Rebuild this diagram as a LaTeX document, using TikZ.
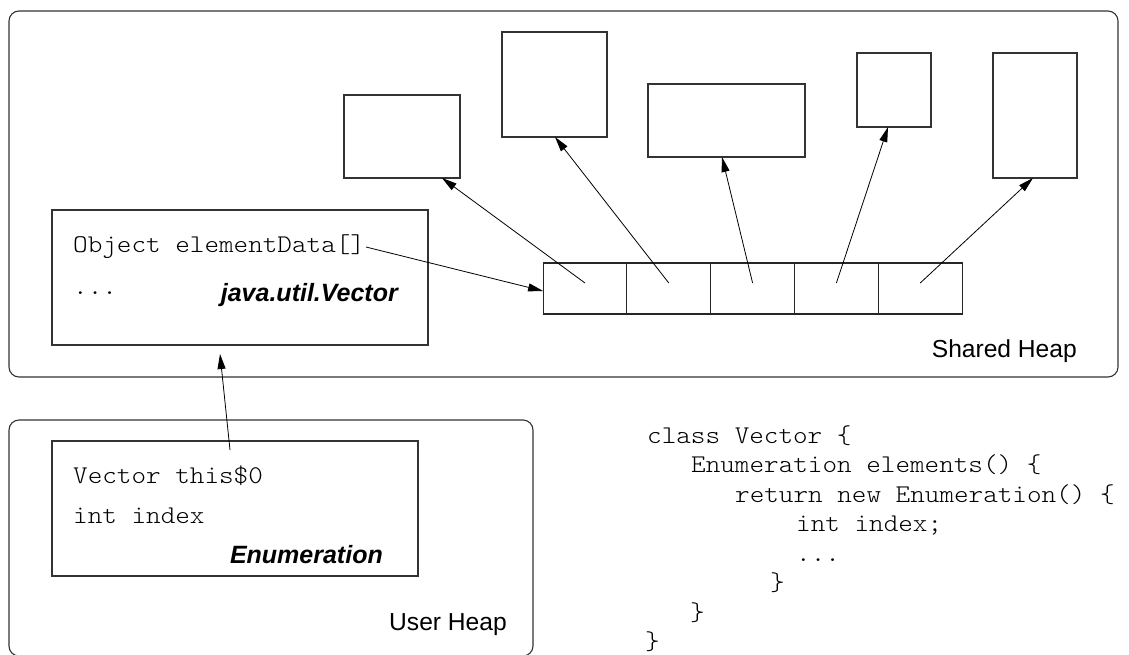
\documentclass[tikz,border=0pt]{standalone}
\usepackage{fontspec}
\setmainfont{Liberation Sans}
\setmonofont[FakeStretch=1.09]{lmmonolt10-regular.otf}
\usetikzlibrary{arrows.meta}
\begin{document}
\begin{tikzpicture}[x=1pt,y=-1pt,
  heap/.style={draw=black!80,line width=1.1pt,rounded corners=10pt,inner sep=0pt,outer sep=0pt},
  obj/.style={draw=black!80,line width=1.2pt,inner sep=0pt,outer sep=0pt},
  cell/.style={draw=black!85,line width=1.1pt,inner sep=0pt,outer sep=0pt,minimum width=83.8pt,minimum height=51pt},
  arr/.style={draw=black,line width=0.8pt,-{Triangle[length=15pt,width=8pt]}},
  code/.style={anchor=base west,inner sep=0pt,font=\ttfamily\fontsize{25.5}{29}\selectfont},
  lbl/.style={anchor=base east,inner sep=0pt,font=\fontsize{24.6}{29}\selectfont},
  cls/.style={anchor=base east,inner sep=0pt,font=\bfseries\itshape\fontsize{25}{29}\selectfont}]
\useasboundingbox (0,0) rectangle (1129,654);
% heaps
\node[heap,minimum width=1109pt,minimum height=366pt] (shared) at (563.5,194) {};
\node[heap,minimum width=524pt,minimum height=236pt] (user) at (271,538) {};
\node[lbl] (sharedlbl) at (1077,357) {Shared Heap};
\node[lbl] (userlbl) at (507,630) {User Heap};
% objects
\node[obj,minimum width=116pt,minimum height=83pt] (o1) at (402,136.5) {};
\node[obj,minimum width=105pt,minimum height=105pt] (o2) at (554.5,84.5) {};
\node[obj,minimum width=157pt,minimum height=73pt] (o3) at (726.5,120.5) {};
\node[obj,minimum width=74pt,minimum height=74pt] (o4) at (894,90) {};
\node[obj,minimum width=84pt,minimum height=125pt] (o5) at (1035,115.5) {};
% array
\node[cell] (c1) at (585,288.5) {};
\node[cell] (c2) at (668.8,288.5) {};
\node[cell] (c3) at (752.6,288.5) {};
\node[cell] (c4) at (836.4,288.5) {};
\node[cell] (c5) at (920.2,288.5) {};
% vector object
\node[obj,minimum width=376pt,minimum height=135pt] (vec) at (240,277.5) {};
\node[code] (vl1) at (73,252) {Object elementData[]};
\node[code] (vl2) at (73,294) {...};
\node[cls] (vcls) at (398,301) {java.util.Vector};
\coordinate (vdata) at (366,247);
% enumeration object
\node[obj,minimum width=366pt,minimum height=135pt] (enum) at (235,508.5) {};
\node[code] (el1) at (73,483) {Vector this\$0};
\node[code] (el2) at (73,523) {int index};
\node[cls] (ecls) at (383,563) {Enumeration};
% code listing
\node[code] (k1) at (647,443) {class Vector \{};
\node[code] (k2) at (691,472.5) {Enumeration elements() \{};
\node[code] (k3) at (735,502) {return new Enumeration() \{};
\node[code] (k4) at (796,531.5) {int index;};
\node[code] (k5) at (796,561) {...};
\node[code] (k6) at (770,590.5) {\}};
\node[code] (k7) at (690,620) {\}};
\node[code] (k8) at (645,649.5) {\}};
% connectors
\draw[arr] (vdata) -- ([yshift=-2.5pt]c1.west);
\draw[arr] ([yshift=5.5pt]c1.center) -- ([xshift=40pt]o1.south);
\draw[arr] ([yshift=5.5pt]c2.center) -- ([xshift=0.5pt]o2.south);
\draw[arr] ([yshift=5.5pt]c3.center) -- ([xshift=-4.5pt]o3.south);
\draw[arr] ([yshift=5.5pt]c4.center) -- ([xshift=-6pt]o4.south);
\draw[arr] ([yshift=5.5pt]c5.center) -- ([xshift=-2pt]o5.south);
\draw[arr] ([xshift=-5pt,yshift=-9pt]enum.north) -- ([xshift=-20pt,yshift=-9pt]vec.south);
\end{tikzpicture}
\end{document}
